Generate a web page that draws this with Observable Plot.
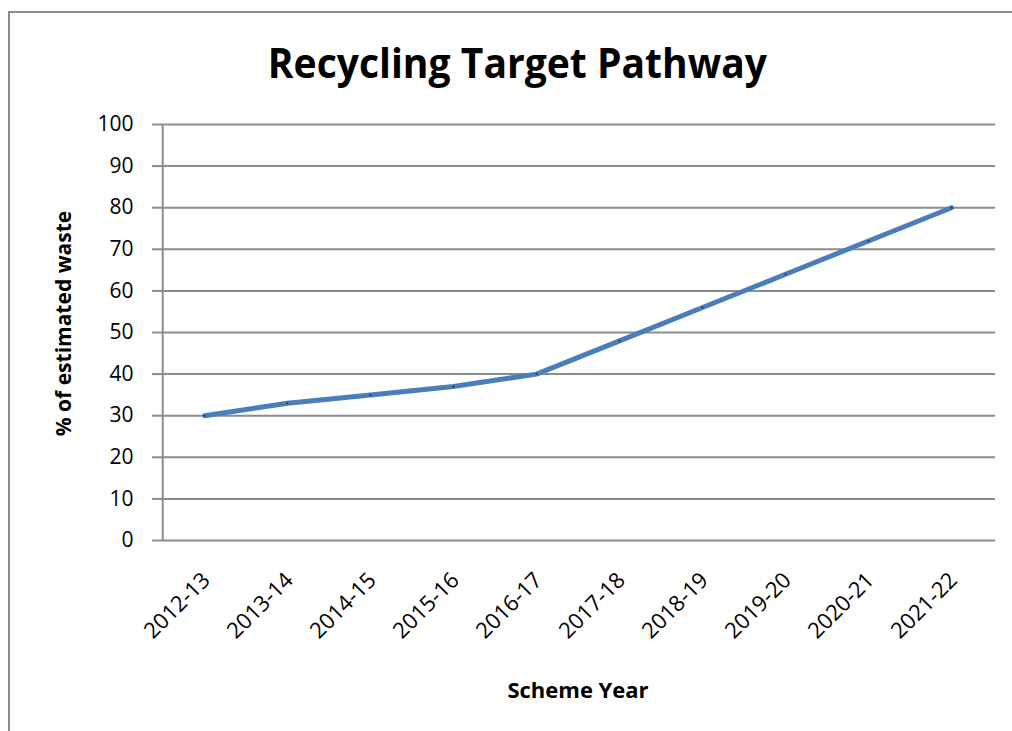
<!DOCTYPE html>
<html>
<head>
<meta charset="utf-8">
<script src="https://cdn.jsdelivr.net/npm/d3@7"></script>
<script src="https://cdn.jsdelivr.net/npm/@observablehq/plot@0.6"></script>
<style>
  html, body { margin: 0; padding: 0; background: #fff; overflow: hidden; }
  #wrap { position: relative; width: 1012px; height: 731px; overflow: hidden; font-family: "Open Sans", sans-serif; }
  #frameTop { position: absolute; left: 8px; top: 11px; width: 1004px; height: 2px; background: #8c8c8c; }
  #frameLeft { position: absolute; left: 8px; top: 11px; width: 2px; height: 720px; background: #8c8c8c; }
  #titlebox { position: absolute; left: 0; width: 1034px; top: 41px; text-align: center; }
  #title { display: inline-block; font-weight: bold; font-size: 42px; color: #000; line-height: 1; transform: scaleX(0.93); transform-origin: center; }
  #chart { position: absolute; left: 0; top: 0; }
</style>
</head>
<body>
<div id="wrap">
  <div id="frameTop"></div>
  <div id="frameLeft"></div>
  <div id="chart"></div>
  <div id="titlebox"><span id="title">Recycling Target Pathway</span></div>
</div>
<script>
const years = ["2012-13","2013-14","2014-15","2015-16","2016-17","2017-18","2018-19","2019-20","2020-21","2021-22"];
const targets = [30, 33, 35, 37, 40, 48, 56, 64, 72, 80];
const yTicks = [0,10,20,30,40,50,60,70,80,90,100];

const data = years.map((y, i) => ({year: y, value: targets[i]}));

const chart = Plot.plot({
  width: 1012,
  height: 731,
  marginTop: 124,
  marginBottom: 191,
  marginLeft: 160,
  marginRight: 17,
  style: {fontFamily: "Open Sans, sans-serif", fontSize: "20px", color: "#000", background: "transparent"},
  x: {type: "point", domain: years, padding: 0.5, label: null},
  y: {domain: [0, 100], label: null},
  marks: [
    Plot.gridY(yTicks, {stroke: "#8c8c8c", strokeOpacity: 1, strokeWidth: 2}),
    Plot.ruleX([years[0]], {dx: -41.75, y1: 0, y2: 100, stroke: "#8c8c8c", strokeWidth: 2}),
    Plot.axisY({ticks: yTicks, tickSize: 8, tickPadding: 19, stroke: "#8c8c8c", strokeWidth: 2, fill: "#000", fontSize: 21, label: null}),
    Plot.axisX({tickSize: 0, tickRotate: -45, tickPadding: 36, dx: 2, fontSize: 22, fill: "#000", label: null}),
    Plot.line(data, {x: "year", y: "value", stroke: "#4a7ebb", strokeWidth: 5, strokeLinecap: "round", strokeLinejoin: "round"}),
    Plot.dot(data, {x: "year", y: "value", r: 1, fill: "#1f2f4a"}),
    Plot.text(["% of estimated waste"], {frameAnchor: "left", dx: -96, dy: -9, rotate: -90, textAnchor: "middle", lineAnchor: "middle", fontWeight: "bold", fontSize: 21, text: d => d}),
    Plot.text(["Scheme Year"], {frameAnchor: "bottom", dy: 150, lineAnchor: "middle", fontWeight: "bold", fontSize: 22, text: d => d})
  ]
});
document.getElementById("chart").appendChild(chart);
</script>
</body>
</html>
